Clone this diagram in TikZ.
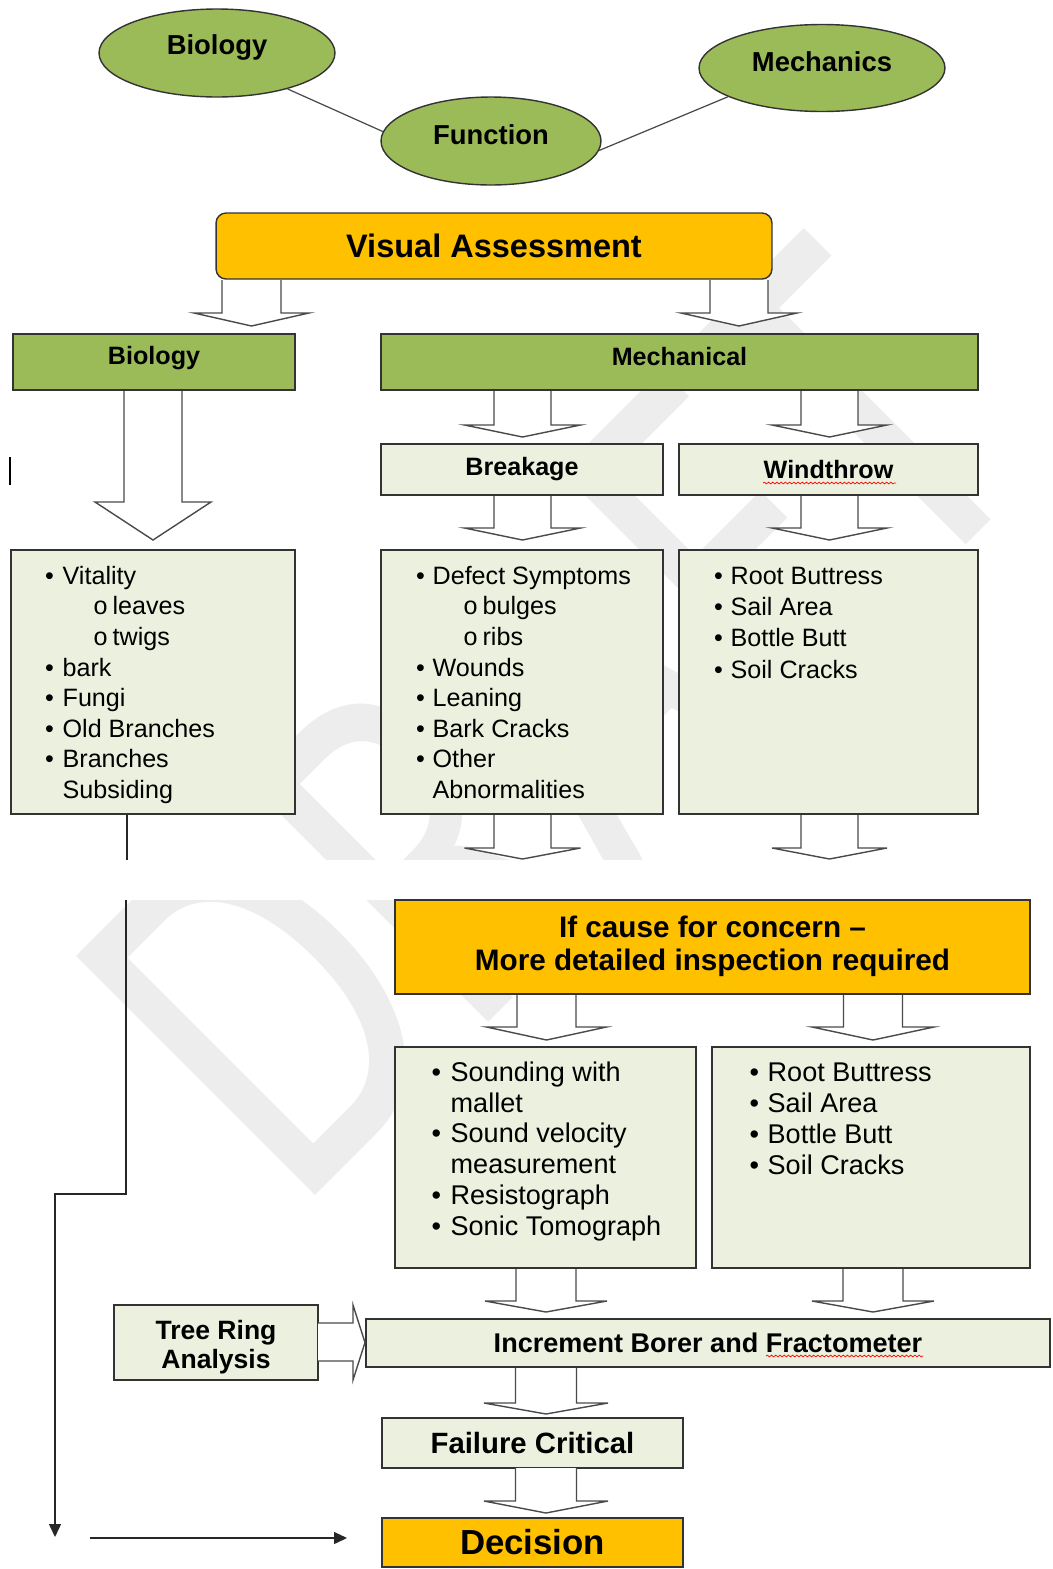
\documentclass[tikz,border=0pt]{standalone}
\usepackage{fontspec}
\setmainfont{Liberation Sans}
\newfontfamily\wmfont[FakeStretch=0.75]{Carlito}
\usetikzlibrary{arrows.meta,calc,shapes.geometric,decorations.pathmorphing}
\definecolor{LeafGreen}{HTML}{9BBB59}
\definecolor{LeafPale}{HTML}{EBF1DE}
\definecolor{Amber}{HTML}{FFC000}
\definecolor{WashGray}{HTML}{EDEDED}
\definecolor{EdgeGray}{HTML}{4A4A4A}

\newlength\bulx
\newlength\bulw
\newcommand\bulitem[1]{\hspace*{\bulx}\makebox[\bulw][l]{\textbullet}#1\par}
\newcommand\bulcont[1]{\hspace*{\bulx}\hspace*{\bulw}#1\par}
\newcommand\subbul[1]{\hspace*{1.66cm}\makebox[0.38cm][l]{o}#1\par}
\newcommand\lift[2]{\raisebox{#1}[\height][\depth]{#2}}
\newcommand\hollowdown[6]{%
  \draw[hollow] (#1-#5,#2) -- (#1-#5,#3) -- (#1-#6,#3) -- (#1,#4)
    -- (#1+#6,#3) -- (#1+#5,#3) -- (#1+#5,#2);}

\begin{document}
\begin{tikzpicture}[x=0.02cm,y=-0.02cm,
  edge/.style={draw=black!80,line width=0.8pt},
  blob/.style={ellipse,edge,fill=LeafGreen,inner sep=0pt,
    font=\bfseries\fontsize{15.6pt}{18pt}\selectfont},
  head/.style={rectangle,edge,fill=LeafGreen,inner sep=0pt,
    font=\bfseries\fontsize{14.3pt}{17pt}\selectfont},
  pale/.style={head,fill=LeafPale},
  listbox/.style={rectangle,edge,fill=LeafPale,inner sep=0pt},
  listtext/.style={anchor=base west,inner sep=0pt,
    font=\fontsize{14.3pt}{17.4pt}\selectfont},
  hollow/.style={fill=white,draw=EdgeGray,line width=0.8pt},
  link/.style={draw=EdgeGray,line width=0.7pt},
  flow/.style={draw=black!85,line width=0.8pt,
    -{Triangle[length=0.26cm,width=0.24cm]}},
  squiggle/.style={red,line width=0.4pt,decorate,
    decoration={snake,amplitude=0.5pt,segment length=2.4pt}},
  wmark/.style={rotate=45,anchor=base west,inner sep=0pt,text=WashGray,
    font=\wmfont\fontsize{300pt}{305pt}\selectfont}]
  \useasboundingbox (0,0) rectangle (1052,1569);
  \begin{scope}
    \clip (0,0) rectangle (1052,1569);
    \node[wmark] (draft) at (296,1215) {DRAFT};
  \end{scope}
  \fill[white] (0,860) rectangle (1052,900);

  \node[blob,minimum width=4.72cm,minimum height=1.76cm] (bio) at (217,53) {\lift{0.12cm}{Biology}};
  \node[blob,minimum width=4.4cm,minimum height=1.76cm] (fun) at (491,141) {\lift{0.12cm}{Function}};
  \node[blob,minimum width=4.92cm,minimum height=1.74cm] (mech) at (822,68) {\lift{0.12cm}{Mechanics}};
  \draw[link] (bio.-27) -- (fun.175);
  \draw[link] (fun.-5) -- (mech.197);

  \node[head,fill=Amber,rounded corners=0.2cm,minimum width=11.12cm,minimum height=1.32cm,
    font=\bfseries\fontsize{18.5pt}{22pt}\selectfont] (va) at (494,246) {Visual Assessment};
  \hollowdown{251.5}{280}{313}{326}{29.5}{57.5}
  \hollowdown{739}{280}{313}{326}{29}{58}

  \node[head,minimum width=5.64cm,minimum height=1.12cm] (bioh) at (154,362) {\lift{0.07cm}{Biology}};
  \node[head,minimum width=11.94cm,minimum height=1.12cm] (mechh) at (679.5,362) {\lift{0.11cm}{Mechanical}};
  \hollowdown{153}{391}{502}{540}{29}{58}
  \hollowdown{522.5}{391}{425}{437}{28.5}{58}
  \hollowdown{829.5}{391}{425}{437}{28.5}{57.5}
  \draw[line width=1.2pt] (10,457) -- (10,485);

  \node[pale,minimum width=5.64cm,minimum height=1.02cm] (brk) at (522,469.5) {Breakage};
  \node[pale,minimum width=5.98cm,minimum height=1.02cm] (wt) at (828.5,469.5) {Windthrow};
  \draw[squiggle] (763,483) -- (896,483);
  \hollowdown{522.5}{496}{528}{540}{28.5}{58}
  \hollowdown{829.5}{496}{528}{540}{28.5}{57.5}

  \node[listbox,minimum width=5.68cm,minimum height=5.28cm] (blist) at (153,682) {};
  \node[listtext] (blisttxt) at ($(blist.north west)+(0,35)$) {\parbox[t]{5.6cm}{%
    \setlength\bulx{0.69cm}\setlength\bulw{0.35cm}%
    \bulitem{Vitality}\subbul{leaves}\subbul{twigs}\bulitem{bark}\bulitem{Fungi}%
    \bulitem{Old Branches}\bulitem{Branches}\bulcont{Subsiding}}};
  \node[listbox,minimum width=5.64cm,minimum height=5.28cm] (brlist) at (522,682) {};
  \node[listtext] (brlisttxt) at ($(brlist.north west)+(0,35)$) {\parbox[t]{5.6cm}{%
    \setlength\bulx{0.71cm}\setlength\bulw{0.33cm}%
    \bulitem{Defect Symptoms}\subbul{bulges}\subbul{ribs}\bulitem{Wounds}\bulitem{Leaning}%
    \bulitem{Bark Cracks}\bulitem{Other}\bulcont{Abnormalities}}};
  \node[listbox,minimum width=5.98cm,minimum height=5.28cm] (wtlist) at (828.5,682) {};
  \node[listtext,font=\fontsize{14.3pt}{17.8pt}\selectfont] (wtlisttxt) at ($(wtlist.north west)+(0,35)$) {\parbox[t]{5.9cm}{%
    \setlength\bulx{0.71cm}\setlength\bulw{0.33cm}%
    \bulitem{Root Buttress}\bulitem{Sail Area}\bulitem{Bottle Butt}\bulitem{Soil Cracks}}};
  \hollowdown{522.5}{815}{848}{859}{28.5}{58}
  \hollowdown{829.5}{815}{848}{859}{28.5}{57.5}

  \node[head,fill=Amber,minimum width=12.7cm,minimum height=1.88cm,
    font=\bfseries\fontsize{16.9pt}{18.8pt}\selectfont] (concern) at (712.5,947)
    {\begin{tabular}{@{}c@{}}If cause for concern --\\More detailed inspection required\end{tabular}};
  \hollowdown{546.5}{995}{1027}{1040}{29.5}{60}
  \hollowdown{873}{995}{1027}{1040}{29.5}{61}

  \node[listbox,minimum width=6.02cm,minimum height=4.42cm] (tlist) at (545.5,1157.5) {};
  \node[listtext,font=\fontsize{15.4pt}{17.5pt}\selectfont] (tlisttxt) at ($(tlist.north west)+(0,35)$) {\parbox[t]{5.9cm}{%
    \setlength\bulx{0.74cm}\setlength\bulw{0.38cm}%
    \bulitem{Sounding with}\bulcont{mallet}\bulitem{Sound velocity}\bulcont{measurement}%
    \bulitem{Resistograph}\bulitem{Sonic Tomograph}}};
  \node[listbox,minimum width=6.36cm,minimum height=4.42cm] (rlist) at (871,1157.5) {};
  \node[listtext,font=\fontsize{15.4pt}{17.7pt}\selectfont] (rlisttxt) at ($(rlist.north west)+(0,35)$) {\parbox[t]{6.2cm}{%
    \setlength\bulx{0.76cm}\setlength\bulw{0.36cm}%
    \bulitem{Root Buttress}\bulitem{Sail Area}\bulitem{Bottle Butt}\bulitem{Soil Cracks}}};
  \hollowdown{546}{1269}{1301}{1312}{30}{61}
  \hollowdown{873}{1269}{1301}{1312}{30}{61}

  \node[pale,minimum width=4.08cm,minimum height=1.5cm,
    font=\bfseries\fontsize{15.1pt}{16.5pt}\selectfont] (ring) at (216,1342.5)
    {\lift{-0.12cm}{\begin{tabular}{@{}c@{}}Tree Ring\\Analysis\end{tabular}}};
  \node[pale,minimum width=13.68cm,minimum height=0.96cm,
    font=\bfseries\fontsize{15.4pt}{18pt}\selectfont] (bore) at (708,1343) {Increment Borer and Fractometer};
  \draw[squiggle] (766,1356) -- (923,1356);
  \draw[hollow] (318,1323) -- (353,1323) -- (353,1305) -- (365,1342.5)
    -- (353,1380) -- (353,1361) -- (318,1361);
  \hollowdown{546}{1368}{1403}{1414}{30.5}{62}

  \node[pale,minimum width=6.02cm,minimum height=1cm,
    font=\bfseries\fontsize{16.7pt}{19pt}\selectfont] (fail) at (532.5,1443) {Failure Critical};
  \hollowdown{546}{1468}{1501}{1513}{30.5}{62}
  \node[head,fill=Amber,minimum width=6.02cm,minimum height=0.98cm,
    font=\bfseries\fontsize{19.8pt}{22pt}\selectfont] (dec) at (532.5,1542.5) {Decision};

  \coordinate (gaptop) at (127,860);
  \coordinate (gapbot) at (126,900);
  \coordinate (elbow) at (126,1194);
  \coordinate (dropend) at (55,1537);
  \coordinate (feedstart) at (90,1538);
  \coordinate (feedend) at (347,1538);
  \draw[flow,-] (blist.south -| gaptop) -- (gaptop);
  \draw[flow] (gapbot) -- (elbow) -| (dropend);
  \draw[flow] (feedstart) -- (feedend);
\end{tikzpicture}
\end{document}
